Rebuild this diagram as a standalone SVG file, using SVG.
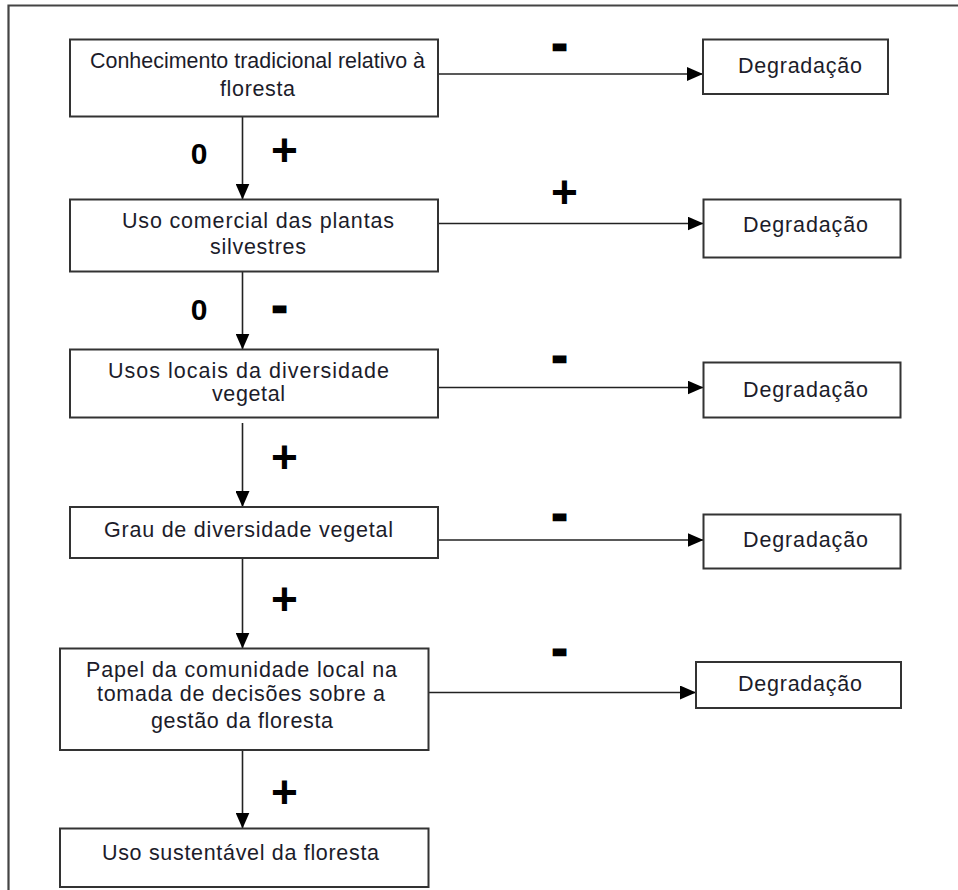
<svg xmlns="http://www.w3.org/2000/svg" width="958" height="890" viewBox="0 0 958 890">
<style>
.box{fill:#fff;stroke:#333;stroke-width:2}
.t{font-family:"Liberation Sans",Arial,sans-serif;font-size:21.5px;fill:#1c1c2a;text-anchor:middle}
.c{stroke:#222;stroke-width:1.6;fill:none;marker-end:url(#ah)}
.lbl{font-family:"Liberation Sans",Arial,sans-serif;font-weight:bold;fill:#000;text-anchor:middle}
.minus{font-size:44px;stroke:#000;stroke-width:2.6}
.plus{font-size:46px}
.zero{font-size:30px}
</style>
<defs>
<marker id="ah" markerUnits="userSpaceOnUse" markerWidth="16" markerHeight="14" refX="16" refY="7" orient="auto">
<path d="M0,0 L16,7 L0,14 z" fill="#000"/>
</marker>
</defs>
<rect width="958" height="890" fill="#fff"/>
<path d="M8.5,890 V5.5 H958" fill="none" stroke="#444" stroke-width="2.2"/>

<g id="connectors">
<line class="c" x1="438" y1="74" x2="703" y2="74"/>
<line class="c" x1="438" y1="223.5" x2="703.5" y2="223.5"/>
<line class="c" x1="438" y1="387.5" x2="703.5" y2="387.5"/>
<line class="c" x1="438" y1="540" x2="703.5" y2="540"/>
<line class="c" x1="428.5" y1="692.5" x2="696" y2="692.5"/>
<line class="c" x1="242.5" y1="116.5" x2="242.5" y2="199.5"/>
<line class="c" x1="242.5" y1="271.5" x2="242.5" y2="349.5"/>
<line class="c" x1="242.5" y1="423" x2="242.5" y2="507"/>
<line class="c" x1="242.5" y1="553" x2="242.5" y2="648.5"/>
<line class="c" x1="242.5" y1="733" x2="242.5" y2="828.5"/>
</g>

<g id="n1">
<rect class="box" x="70" y="39.5" width="368" height="77"/>
<text class="t" x="257.5" y="68" textLength="335" lengthAdjust="spacingAndGlyphs">Conhecimento tradicional relativo à</text>
<text class="t" x="257.5" y="96" textLength="75" lengthAdjust="spacing">floresta</text>
</g>
<g id="n2">
<rect class="box" x="70" y="199.5" width="368" height="72"/>
<text class="t" x="258" y="228" textLength="272" lengthAdjust="spacing">Uso comercial das plantas</text>
<text class="t" x="258" y="254" textLength="96" lengthAdjust="spacing">silvestres</text>
</g>
<g id="n3">
<rect class="box" x="70" y="349.5" width="368" height="68"/>
<text class="t" x="248.5" y="378" textLength="281" lengthAdjust="spacing">Usos locais da diversidade</text>
<text class="t" x="248.5" y="401" textLength="73" lengthAdjust="spacing">vegetal</text>
</g>
<g id="n4">
<rect class="box" x="70" y="507" width="368" height="51"/>
<text class="t" x="248.5" y="537" textLength="289" lengthAdjust="spacing">Grau de diversidade vegetal</text>
</g>
<g id="n5">
<rect class="box" x="60" y="648.5" width="368.5" height="101.5"/>
<text class="t" x="241.5" y="677" textLength="311" lengthAdjust="spacing">Papel da comunidade local na</text>
<text class="t" x="241" y="701" textLength="288" lengthAdjust="spacing">tomada de decisões sobre a</text>
<text class="t" x="242" y="728" textLength="182" lengthAdjust="spacing">gestão da floresta</text>
</g>
<g id="n6">
<rect class="box" x="60" y="828.5" width="368.5" height="58.5"/>
<text class="t" x="240.5" y="860" textLength="277" lengthAdjust="spacing">Uso sustentável da floresta</text>
</g>

<g id="d1">
<rect class="box" x="703" y="39.5" width="185" height="54.5"/>
<text class="t" x="800" y="73" textLength="124" lengthAdjust="spacing">Degradação</text>
</g>
<g id="d2">
<rect class="box" x="703.5" y="199.5" width="197" height="58"/>
<text class="t" x="805.5" y="232" textLength="125" lengthAdjust="spacing">Degradação</text>
</g>
<g id="d3">
<rect class="box" x="703.5" y="362.5" width="197" height="55"/>
<text class="t" x="805.5" y="397" textLength="125" lengthAdjust="spacing">Degradação</text>
</g>
<g id="d4">
<rect class="box" x="703.5" y="514.5" width="197" height="54"/>
<text class="t" x="805.5" y="547" textLength="125" lengthAdjust="spacing">Degradação</text>
</g>
<g id="d5">
<rect class="box" x="696" y="662" width="205" height="46"/>
<text class="t" x="800" y="691" textLength="124" lengthAdjust="spacing">Degradação</text>
</g>

<g id="labels">
<text class="lbl minus" x="559.5" y="59">-</text>
<text class="lbl minus" x="279.5" y="321">-</text>
<text class="lbl minus" x="559.5" y="371">-</text>
<text class="lbl minus" x="559.5" y="529">-</text>
<text class="lbl minus" x="559.5" y="664">-</text>
<text class="lbl plus" x="284.5" y="166">+</text>
<text class="lbl plus" x="564.5" y="208">+</text>
<text class="lbl plus" x="284.5" y="473">+</text>
<text class="lbl plus" x="284.5" y="615">+</text>
<text class="lbl plus" x="284.5" y="808">+</text>
<text class="lbl zero" x="199" y="164">0</text>
<text class="lbl zero" x="199" y="320">0</text>
</g>
</svg>
